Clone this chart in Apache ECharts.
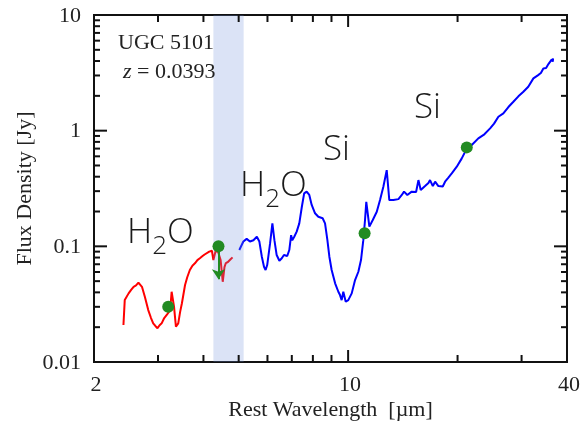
<!DOCTYPE html>
<html>
<head>
<meta charset="utf-8">
<script src="https://cdn.jsdelivr.net/npm/echarts@6/dist/echarts.min.js"></script>
<style>html,body{margin:0;padding:0;background:#fff}#c{width:583px;height:427px}</style>
</head>
<body>
<div id="c"></div>
<script>
// ---- data (wavelength in micron, flux density in Jy) ----
const redWave = [2.41,2.43,2.49,2.53,2.57,2.61,2.65,2.68,2.71,2.76,2.82,2.87,2.91,2.95,2.99,3.03,3.07,3.12,3.17,3.24,3.27,3.32,3.36,3.41,3.45,3.49,3.56,3.61,3.67,3.73,3.79,3.85,3.91,3.97,4.03,4.08,4.15,4.22,4.26,4.32,4.39,4.46,4.52,4.57,4.61,4.67,4.75,4.81];
const redFlux = [0.0209,0.0343,0.0392,0.0420,0.0447,0.0460,0.0485,0.0470,0.0447,0.0367,0.0281,0.0240,0.0216,0.0205,0.0196,0.0208,0.0216,0.0240,0.0255,0.0281,0.0405,0.0301,0.0202,0.0216,0.0270,0.0322,0.0463,0.0540,0.0624,0.0680,0.0713,0.0760,0.0788,0.0820,0.0850,0.0870,0.0900,0.0916,0.0761,0.0911,0.0893,0.0761,0.0494,0.0662,0.0717,0.0732,0.0772,0.0803];
const blueWave = [5.02,5.15,5.26,5.37,5.49,5.61,5.70,5.79,5.87,5.93,5.99,6.10,6.19,6.27,6.36,6.47,6.57,6.66,6.80,6.89,6.97,7.02,7.11,7.22,7.34,7.46,7.57,7.69,7.82,7.94,8.11,8.28,8.51,8.64,8.77,8.88,9.01,9.21,9.40,9.50,9.60,9.70,9.85,10.01,10.23,10.45,10.67,10.85,11.01,11.13,11.22,11.44,11.69,11.99,12.24,12.50,12.77,12.98,13.32,13.75,14.05,14.25,14.55,14.96,15.38,15.61,15.84,16.28,16.63,16.80,17.10,17.35,17.71,18.21,18.48,18.87,19.28,19.90,20.54,21.20,21.88,22.81,23.70,24.58,25.20,25.90,26.73,27.60,28.48,29.40,30.34,31.30,32.33,33.32,33.90,34.44,35.04,35.56,35.95,36.33,36.56,36.62];
const blueFlux = [0.0929,0.110,0.116,0.110,0.113,0.121,0.110,0.0813,0.0666,0.0624,0.0689,0.106,0.158,0.113,0.0841,0.0751,0.0788,0.0841,0.0825,0.0929,0.125,0.113,0.121,0.134,0.158,0.220,0.287,0.297,0.278,0.228,0.193,0.180,0.175,0.158,0.113,0.0813,0.0624,0.0479,0.0405,0.0379,0.0343,0.0405,0.0332,0.0343,0.0392,0.0511,0.0603,0.0761,0.113,0.169,0.242,0.148,0.169,0.199,0.251,0.327,0.456,0.251,0.251,0.256,0.278,0.297,0.278,0.297,0.295,0.374,0.307,0.332,0.353,0.374,0.332,0.362,0.332,0.329,0.362,0.393,0.428,0.488,0.576,0.700,0.751,0.858,0.930,1.047,1.150,1.319,1.411,1.600,1.778,1.980,2.169,2.400,2.831,3.024,3.150,3.454,3.475,3.764,3.727,4.132,3.956,4.216];
const photWave = [3.2, 4.4, 11.1, 21.2];
const photFlux = [0.030, 0.100, 0.130, 0.717];
const upperLimitWave = 4.4;
const upperLimitFrom = 0.100;
const upperLimitTo = 0.052;
const bandRange = [4.26, 5.16];
const xMinorTicks = [3,4,5,6,7,8,9,20,30];
const xMajorTicks = [10];
const yMajorTicks = [0.1, 1];
const yMinorTicks = [0.02,0.03,0.04,0.05,0.06,0.07,0.08,0.09,0.2,0.3,0.4,0.5,0.6,0.7,0.8,0.9,2,3,4,5,6,7,8,9];
const xTickLabels = [2, 10, 40];
const yTickLabels = [0.01, 0.1, 1, 10];

const XMIN = 2, XMAX = 40, YMIN = 0.01, YMAX = 10;
const zip = (a, b) => a.map((v, i) => [v, b[i]]);

const tickData = [].concat(
  xMinorTicks.map(v => [v, YMIN, 0]),
  xMajorTicks.map(v => [v, YMIN, 1]),
  yMinorTicks.map(v => [XMIN, v, 2]),
  yMajorTicks.map(v => [XMIN, v, 3])
);
const labelData = [].concat(
  xTickLabels.map(v => [v, YMIN, 0]),
  yTickLabels.map(v => [XMIN, v, 1])
);

const serif = "'Liberation Serif', 'Times New Roman', serif";
const sans = "'Open Sans', 'DejaVu Sans', sans-serif";
const ann = (text, left, top) => ({
  type: 'text', left: left, top: top, z: 50,
  style: {
    text: text, fill: '#1a1a1a',
    rich: {
      a: { fontSize: 35, fontFamily: sans, fontWeight: 300, fill: '#1a1a1a' },
      b: { fontSize: 26, fontFamily: sans, fontWeight: 300, fill: '#1a1a1a', padding: [26, 0, 0, 0] }
    }
  }
});

const chart = echarts.init(document.getElementById('c'), null, { renderer: 'canvas' });
chart.setOption({
  animation: false,
  backgroundColor: '#fff',
  grid: { left: 94, right: 16, top: 15, bottom: 65, show: true, borderColor: '#111', borderWidth: 2, backgroundColor: 'transparent' },
  xAxis: {
    type: 'log', logBase: 10, min: XMIN, max: XMAX,
    axisLine: { show: false }, axisTick: { show: false }, axisLabel: { show: false }, splitLine: { show: false },
    name: 'Rest Wavelength  [\u00b5m]', nameLocation: 'middle', nameGap: 37,
    nameTextStyle: { fontFamily: serif, fontSize: 22, color: '#222' }
  },
  yAxis: {
    type: 'log', logBase: 10, min: YMIN, max: YMAX,
    axisLine: { show: false }, axisTick: { show: false }, axisLabel: { show: false }, splitLine: { show: false },
    name: 'Flux Density [Jy]', nameLocation: 'middle', nameGap: 58,
    nameTextStyle: { fontFamily: serif, fontSize: 22, color: '#222' }
  },
  graphic: [
    { type: 'text', left: 118, top: 32, z: 50, style: { text: 'UGC 5101', font: "22px " + serif, fill: '#222' } },
    { type: 'text', left: 123, top: 61, z: 50, style: { text: '{i|z} = 0.0393', fill: '#222', font: "22px " + serif,
        rich: { i: { fontStyle: 'italic', fontSize: 22, fontFamily: serif, fill: '#222' } } } },
    ann('{a|H}{b|2}{a|O}', 127, 216),
    ann('{a|H}{b|2}{a|O}', 240, 169),
    ann('{a|Si}', 323, 133),
    ann('{a|Si}', 414, 91)
  ],
  series: [
    { type: 'line', name: 'red', data: zip(redWave, redFlux), showSymbol: false, z: 2,
      lineStyle: { color: '#ff0000', width: 2 }, itemStyle: { color: '#ff0000' } },
    { type: 'line', name: 'blue', data: zip(blueWave, blueFlux), showSymbol: false, z: 2,
      lineStyle: { color: '#0000ff', width: 2 }, itemStyle: { color: '#0000ff' } },
    { type: 'custom', name: 'band', data: [[bandRange[0], bandRange[1]]], z: 3, silent: true,
      encode: { x: [0, 1] },
      renderItem: function (params, api) {
        const p0 = api.coord([api.value(0), YMAX]);
        const p1 = api.coord([api.value(1), YMIN]);
        return { type: 'rect', shape: { x: p0[0], y: p0[1], width: p1[0] - p0[0], height: p1[1] - p0[1] },
          style: { fill: 'rgba(110,145,220,0.25)' } };
      } },
    { type: 'scatter', name: 'phot', data: zip(photWave, photFlux), symbolSize: 12, z: 5,
      itemStyle: { color: '#228b22', opacity: 1 },
      markLine: { silent: true, symbol: ['none', 'arrow'], symbolSize: 10, animation: false,
        lineStyle: { color: '#228b22', width: 2, type: 'solid', opacity: 1 }, label: { show: false },
        emphasis: { disabled: true },
        data: [[{ coord: [upperLimitWave, upperLimitFrom] }, { coord: [upperLimitWave, upperLimitTo] }]] } },
    { type: 'custom', name: 'ticks', data: tickData, z: 10, silent: true,
      renderItem: function (params, api) {
        const cs = params.coordSys;
        const kind = api.value(2);
        const p = api.coord([api.value(0), api.value(1)]);
        const st = { stroke: '#111', lineWidth: 2 };
        if (kind < 2) {
          const len = kind === 1 ? 12 : 7;
          const yb = cs.y + cs.height, yt = cs.y;
          return { type: 'group', children: [
            { type: 'line', shape: { x1: p[0], y1: yb, x2: p[0], y2: yb - len }, style: st },
            { type: 'line', shape: { x1: p[0], y1: yt, x2: p[0], y2: yt + len }, style: st }
          ] };
        }
        const len = kind === 3 ? 13 : 6;
        const xl = cs.x, xr = cs.x + cs.width;
        return { type: 'group', children: [
          { type: 'line', shape: { x1: xl, y1: p[1], x2: xl + len, y2: p[1] }, style: st },
          { type: 'line', shape: { x1: xr, y1: p[1], x2: xr - len, y2: p[1] }, style: st }
        ] };
      } },
    { type: 'custom', name: 'ticklabels', data: labelData, z: 10, silent: true,
      renderItem: function (params, api) {
        const kind = api.value(2);
        const v = kind === 0 ? api.value(0) : api.value(1);
        const p = api.coord([api.value(0), api.value(1)]);
        const txt = String(v);
        if (kind === 0) {
          return { type: 'text', style: { text: txt, x: p[0] + 2, y: p[1] + 23, font: '22px ' + serif, fill: '#222',
            textAlign: 'center', textVerticalAlign: 'middle', verticalAlign: 'middle' } };
        }
        return { type: 'text', style: { text: txt, x: p[0] - 13, y: p[1] + 1, font: '22px ' + serif, fill: '#222',
          textAlign: 'right', textVerticalAlign: 'middle', verticalAlign: 'middle' } };
      } }
  ]
});
</script>
</body>
</html>
